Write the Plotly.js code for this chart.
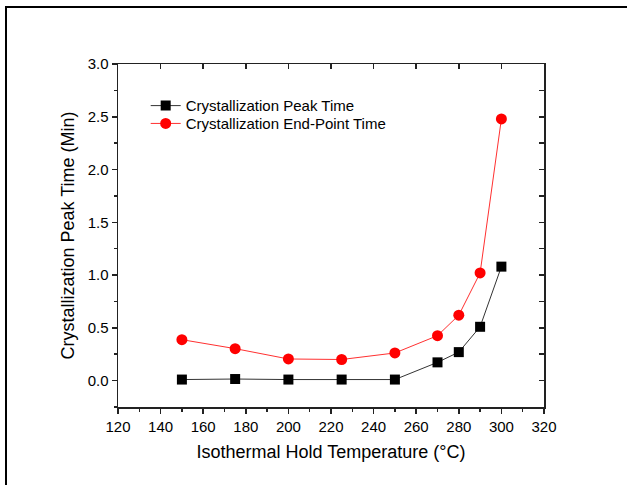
<!DOCTYPE html>
<html>
<head>
<meta charset="utf-8">
<script src="https://cdn.plot.ly/plotly-3.0.1.min.js"></script>
<style>
html,body{margin:0;padding:0;background:#fff;}
#frame{position:absolute;left:5px;top:6px;width:640px;height:500px;border-left:2px solid #000;border-top:2px solid #000;pointer-events:none;z-index:5;}
#chart{width:627px;height:485px;}
</style>
</head>
<body>
<div id="frame"></div>
<div id="chart"></div>
<script>
const temperatures = [150, 175, 200, 225, 250, 270, 280, 290, 300];
const peakTime = [0.01, 0.015, 0.01, 0.01, 0.01, 0.173, 0.27, 0.51, 1.08];
const endPointTime = [0.388, 0.303, 0.205, 0.20, 0.262, 0.426, 0.62, 1.02, 2.48];
const seriesNames = ["Crystallization Peak Time", "Crystallization End-Point Time"];
const xTitle = "Isothermal Hold Temperature (°C)";
const yTitle = "Crystallization Peak Time (Min)";
const xTicks = [120, 140, 160, 180, 200, 220, 240, 260, 280, 300, 320];
const yTicks = [0, 0.5, 1.0, 1.5, 2.0, 2.5, 3.0];
const yTickText = ["0.0", "0.5", "1.0", "1.5", "2.0", "2.5", "3.0"];

const font = {family: "Liberation Sans, Arial, sans-serif", color: "#000"};
const axisColor = "#222";
const f = s => Object.assign({size: s}, font);

const traces = [
  {x: temperatures, y: peakTime, name: seriesNames[0], type: "scatter", mode: "lines+markers",
   legend: "legend",
   line: {color: "#333", width: 1}, marker: {symbol: "square", size: 10, color: "#000"}},
  {x: temperatures, y: endPointTime, name: seriesNames[1], type: "scatter", mode: "lines+markers",
   legend: "legend2",
   line: {color: "#ff3030", width: 1}, marker: {symbol: "circle", size: 11, color: "#ff0000"}},
  {x: [temperatures[0]], y: [peakTime[0]], xaxis: "x2", yaxis: "y2", type: "scatter", mode: "markers",
   marker: {opacity: 0}, showlegend: false, hoverinfo: "skip"}
];

const legendBase = {xanchor: "left", yanchor: "middle", bgcolor: "rgba(0,0,0,0)", font: f(15), itemwidth: 30};

const layout = {
  width: 627, height: 485,
  margin: {l: 118, r: 83, t: 64, b: 78},
  paper_bgcolor: "#fff", plot_bgcolor: "#fff",
  font: f(15),
  showlegend: true,
  legend: Object.assign({x: 0.065, y: 0.878}, legendBase),
  legend2: Object.assign({x: 0.065, y: 0.826}, legendBase),
  xaxis: {range: [120, 320], tickvals: xTicks,
          ticks: "outside", ticklen: 5, tickwidth: 1.5, tickcolor: axisColor,
          minor: {dtick: 10, ticks: "outside", ticklen: 3, tickwidth: 1.5, tickcolor: axisColor},
          showline: true, linecolor: axisColor, linewidth: 1.5, showgrid: false, zeroline: false,
          tickfont: f(15),
          title: {text: xTitle, font: f(18), standoff: 12}},
  yaxis: {range: [-0.25, 3.0], tickvals: yTicks, ticktext: yTickText,
          ticks: "outside", ticklen: 5, tickwidth: 1.5, tickcolor: axisColor,
          minor: {dtick: 0.25, tick0: 0, ticks: "outside", ticklen: 3, tickwidth: 1.5, tickcolor: axisColor},
          showline: true, linecolor: axisColor, linewidth: 1.5, showgrid: false, zeroline: false,
          tickfont: f(15),
          title: {text: yTitle, font: f(18), standoff: 8}},
  xaxis2: {overlaying: "x", side: "top", range: [120, 320], tickvals: xTicks,
           ticks: "inside", ticklen: 5, tickwidth: 1.5, tickcolor: axisColor,
           showline: true, linecolor: axisColor, linewidth: 1.5, showgrid: false, zeroline: false, showticklabels: false},
  yaxis2: {overlaying: "y", side: "right", range: [-0.25, 3.0], tickvals: yTicks,
           ticks: "inside", ticklen: 5, tickwidth: 1.5, tickcolor: axisColor,
           minor: {dtick: 0.25, tick0: 0, ticks: "inside", ticklen: 5, tickwidth: 1.5, tickcolor: axisColor},
           showline: true, linecolor: axisColor, linewidth: 1.5, showgrid: false, zeroline: false, showticklabels: false}
};

Plotly.newPlot("chart", traces, layout, {displayModeBar: false, staticPlot: true});
</script>
</body>
</html>
